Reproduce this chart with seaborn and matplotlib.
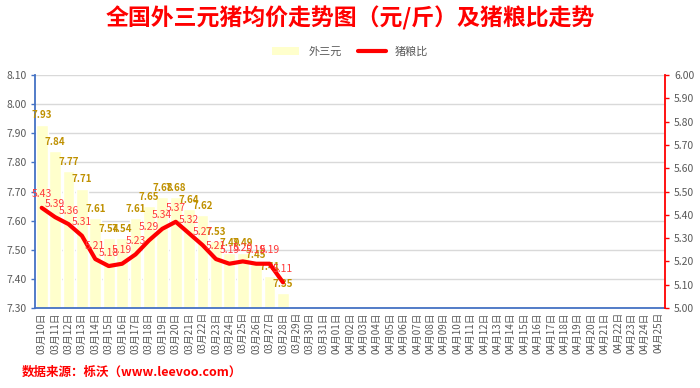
import numpy as np
import pandas as pd
import seaborn as sns
import matplotlib.pyplot as plt
from matplotlib.patches import Patch
from matplotlib.lines import Line2D

sns.set_style("white")
plt.rcParams['font.family'] = ['Noto Sans CJK SC', 'DejaVu Sans']

# categories: 03-10 .. 04-25
dates = [f"03月{d:02d}日" for d in range(10, 32)] + [f"04月{d:02d}日" for d in range(1, 26)]

# 外三元 price (元/斤), 03-10 .. 03-28
price = [7.93, 7.84, 7.77, 7.71, 7.61, 7.54, 7.54, 7.61, 7.65, 7.68,
         7.68, 7.64, 7.62, 7.53, 7.49, 7.49, 7.45, 7.41, 7.35]

# 猪粮比, 03-10 .. 03-28
ratio = [5.43, 5.39, 5.36, 5.31, 5.21, 5.18, 5.19, 5.23, 5.29, 5.34,
         5.37, 5.32, 5.27, 5.21, 5.19, 5.20, 5.19, 5.19, 5.11]

left_ticks = [7.30, 7.40, 7.50, 7.60, 7.70, 7.80, 7.90, 8.00, 8.10]
right_ticks = [5.00, 5.10, 5.20, 5.30, 5.40, 5.50, 5.60, 5.70, 5.80, 5.90, 6.00]

bar_color = '#FFFFCC'
gold = '#BF9000'
gray = '#595959'
blue = '#4472C4'

df = pd.DataFrame({'date': dates[:len(price)], 'price': price})

fig = plt.figure(figsize=(7, 3.88), dpi=100)
ax = fig.add_axes([35 / 700, 1 - 308 / 388, (665 - 35) / 700, (308 - 75) / 388])

sns.barplot(data=df, x='date', y='price', order=dates, color=bar_color,
            saturation=1, width=0.88, ax=ax)
ax.set_ylim(7.30, 8.10)
ax.set_yticks(left_ticks)
ax.set_yticklabels([f"{t:.2f}" for t in left_ticks], color=gray, fontsize=7.5)
ax.yaxis.grid(True, color='#D9D9D9', lw=1)
ax.set_axisbelow(True)
ax.set_xlabel('')
ax.set_ylabel('')
ax.set_xticks(range(len(dates)))
ax.set_xticklabels(dates, rotation=90, color=gray, fontsize=7)
ax.tick_params(axis='x', length=0, pad=3)
ax.set_xticks(np.arange(len(dates) + 1) - 0.5, minor=True)
ax.tick_params(axis='x', which='minor', length=3, color=blue, width=1)
ax.tick_params(axis='y', length=3, color=blue, width=1, pad=3)
for s in ['top', 'right']:
    ax.spines[s].set_visible(False)
ax.spines['left'].set_color(blue)
ax.spines['bottom'].set_color(blue)
ax.spines['left'].set_linewidth(1.3)
ax.spines['bottom'].set_linewidth(1.3)

for i, v in enumerate(price):
    ax.annotate(f"{v:.2f}", (i, v), xytext=(0, 3), textcoords='offset points',
                ha='center', va='bottom', color=gold, fontsize=7, fontweight='bold')

ax2 = ax.twinx()
sns.lineplot(x=np.arange(len(ratio)), y=ratio, ax=ax2, color='#FF0000', lw=3)
ax2.set_ylim(5.00, 6.00)
ax2.set_yticks(right_ticks)
ax2.set_yticklabels([f"{t:.2f}" for t in right_ticks], color=gray, fontsize=7.5)
ax2.tick_params(axis='y', length=3, color='#FF0000', width=1)
for s in ['top', 'left', 'bottom']:
    ax2.spines[s].set_visible(False)
ax2.spines['right'].set_color('#FF0000')
ax2.spines['right'].set_linewidth(1.3)
ax2.set_ylabel('')
for i, v in enumerate(ratio):
    ax2.annotate(f"{v:.2f}", (i, v), xytext=(0, 6), textcoords='offset points',
                 ha='center', va='bottom', color='#FF3B3B', fontsize=7.5)

ax.set_xlim(-0.5, len(dates) - 0.5)

fig.text(0.5, 1 - 18 / 388, "全国外三元猪均价走势图（元/斤）及猪粮比走势",
         ha='center', va='center', color='#FF0000', fontsize=16.5, fontweight='bold')

handles = [Patch(facecolor=bar_color, edgecolor='none'),
           Line2D([], [], color='#FF0000', lw=3)]
leg = fig.legend(handles, ['外三元', '猪粮比'], loc='center', ncol=2,
                 bbox_to_anchor=(0.5, 1 - 52 / 388), frameon=False, fontsize=8,
                 handlelength=2.5, columnspacing=1.5)
for t in leg.get_texts():
    t.set_color(gray)

fig.text(22 / 700, 1 - 372 / 388, "数据来源：栎沃（www.leevoo.com）",
         ha='left', va='center', color='#FF0000', fontsize=9, fontweight='bold')

fig.savefig('out.png', dpi=100)
